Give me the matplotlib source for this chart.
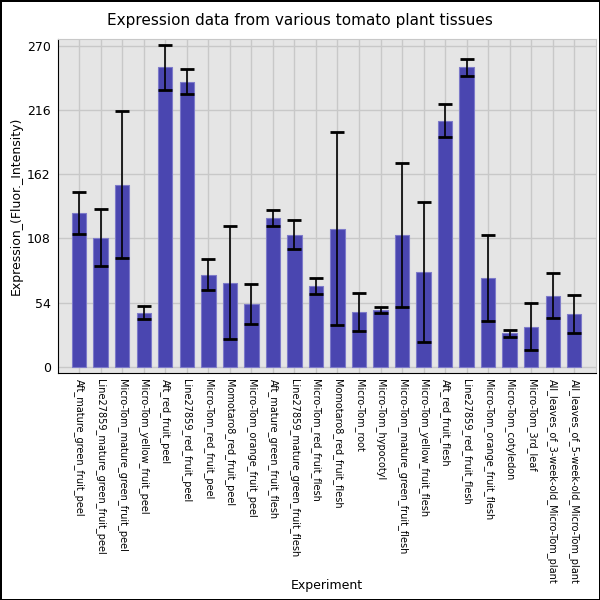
import numpy as np
import matplotlib
matplotlib.use('Agg')
import matplotlib.pyplot as plt

experiments = ['Aft_mature_green_fruit_peel', 'Line27859_mature_green_fruit_peel',
               'Micro-Tom_mature_green_fruit_peel', 'Micro-Tom_yellow_fruit_peel',
               'Aft_red_fruit_peel', 'Line27859_red_fruit_peel', 'Micro-Tom_red_fruit_peel',
               'Momotaro8_red_fruit_peel', 'Micro-Tom_orange_fruit_peel',
               'Aft_mature_green_fruit_flesh', 'Line27859_mature_green_fruit_flesh',
               'Micro-Tom_red_fruit_flesh', 'Momotaro8_red_fruit_flesh', 'Micro-Tom_root',
               'Micro-Tom_hypocotyl', 'Micro-Tom_mature_green_fruit_flesh',
               'Micro-Tom_yellow_fruit_flesh', 'Aft_red_fruit_flesh', 'Line27859_red_fruit_flesh',
               'Micro-Tom_orange_fruit_flesh', 'Micro-Tom_cotyledon', 'Micro-Tom_3rd_leaf',
               'All_leaves_of_3-week-old_Micro-Tom_plant', 'All_leaves_of_5-week-old_Micro-Tom_plant']
expression = [129.6, 108.5, 153.3, 45.3, 252.0, 240.2, 77.3, 70.6, 52.9, 125.4, 111.1, 68.0,
              116.1, 46.1, 47.8, 111.1, 79.9, 207.3, 252.0, 74.8, 28.1, 33.5, 59.6, 44.4]
errors = [17.8, 24.0, 62.0, 5.4, 18.6, 10.5, 13.0, 47.7, 17.0, 6.9, 12.4, 6.4,
          81.4, 16.0, 2.7, 60.5, 59.0, 14.2, 7.5, 36.0, 3.1, 19.8, 19.0, 15.7]
yticks = [0, 54, 108, 162, 216, 270]

fig = plt.figure(figsize=(6, 6), dpi=100)
fig.patch.set_edgecolor('black')
fig.patch.set_linewidth(2)
ax = fig.add_axes([0.096, 0.378, 0.897, 0.557])
ax.set_facecolor('#e5e5e5')

x = np.arange(len(experiments))
ax.bar(x, expression, width=0.67, color='#4a46b0', edgecolor='#7d7ac9', linewidth=0.8,
       yerr=errors, zorder=3,
       error_kw=dict(ecolor='black', elinewidth=1.2, capsize=4.7, capthick=2, zorder=4))

ax.set_xlim(-1, 24)
ax.set_ylim(-5.5, 276)
ax.set_yticks(yticks)
ax.set_xticks(x)
ax.set_xticklabels(experiments, rotation=270, fontsize=7)
ax.tick_params(axis='y', labelsize=9, length=0, pad=5)
ax.tick_params(axis='x', length=0, pad=4)
ax.grid(True, color='#c8c8c8', linewidth=1.0, zorder=0)
ax.set_axisbelow(True)
for side in ['top', 'right']:
    ax.spines[side].set_color('#c8c8c8')
ax.spines['left'].set_color('black')
ax.spines['bottom'].set_color('black')

ax.set_ylabel('Expression_(Fluor._Intensity)', fontsize=9, labelpad=3)
fig.text(0.545, 0.018, 'Experiment', ha='center', fontsize=9)
fig.suptitle('Expression data from various tomato plant tissues', fontsize=11, y=0.978)

fig.savefig('out.png', dpi=100, edgecolor=fig.get_edgecolor())
